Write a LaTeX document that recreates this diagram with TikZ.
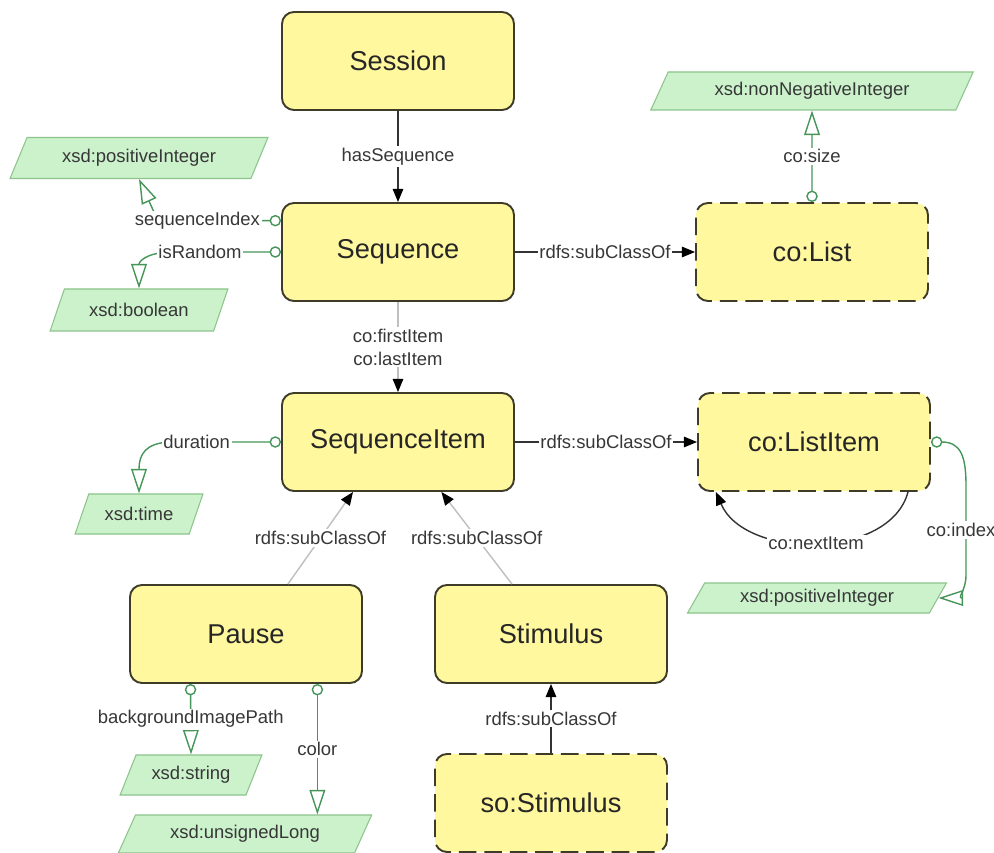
\documentclass[tikz,border=0pt]{standalone}
\usepackage{fontspec}
\setmainfont{Liberation Sans}
\usetikzlibrary{calc,arrows.meta,shapes.geometric}

\definecolor{clsfill}{RGB}{255,248,158}
\definecolor{clsline}{RGB}{62,60,40}
\definecolor{dtfill}{RGB}{204,242,204}
\definecolor{dtline}{RGB}{140,196,140}
\definecolor{propline}{RGB}{70,150,90}
\definecolor{lbltext}{RGB}{55,55,55}

\begin{document}
\begin{tikzpicture}[x=0.2mm,y=-0.2mm,
	cls/.style={draw=clsline,fill=clsfill,line width=1.1pt,rounded corners=2.4mm,minimum width=46.4mm,minimum height=19.6mm,font=\fontsize{15.5}{18}\selectfont,text=black!85},
	extcls/.style={cls,dash pattern=on 10pt off 4.5pt},
	dtype/.style={trapezium,trapezium left angle=60,trapezium right angle=120,trapezium stretches=true,draw=dtline,fill=dtfill,line width=0.6pt,inner sep=1pt,font=\fontsize{10.5}{12}\selectfont,text=lbltext},
	lbl/.style={fill=white,inner sep=1pt,font=\fontsize{10.5}{13}\selectfont,text=lbltext},
	sub/.style={draw=black!80,line width=0.8pt,-{Triangle[length=7.5pt,width=6pt,black]}},
	subgray/.style={sub,draw=black!25},
	prop/.style={draw=propline,line width=0.8pt,{Circle[open,length=6.5pt]}-{Triangle[open,length=14pt,width=9pt]}}
	]
\useasboundingbox[fill=white] (0,0) rectangle (994,853);

\foreach \nm/\x/\y in {Session/398/61, Sequence/398/252, SequenceItem/398/442, Pause/246/634, Stimulus/551/634}
	{
	\node[cls] (\nm) at (\x,\y) {\nm};
	}
\node[extcls] (coList) at (812,252) {co:List};
\node[extcls] (coListItem) at (814,442) {co:ListItem};
\node[extcls] (soStimulus) at (551,803) {so:Stimulus};

\node[dtype,minimum width=51.6mm,minimum height=8.2mm] (posInt) at (139,158) {xsd:positiveInteger};
\node[dtype,minimum width=35.6mm,minimum height=8.4mm] (boolean) at (139,310) {xsd:boolean};
\node[dtype,minimum width=25.6mm,minimum height=8mm] (time) at (139,514) {xsd:time};
\node[dtype,minimum width=64.6mm,minimum height=7.6mm] (nonNegInt) at (812,91) {xsd:nonNegativeInteger};
\node[dtype,minimum width=51.8mm,minimum height=6mm] (indexInt) at (817,598) {xsd:positiveInteger};
\node[dtype,minimum width=28.4mm,minimum height=8mm] (string) at (191,775) {xsd:string};
\node[dtype,minimum width=50.8mm,minimum height=7.6mm] (unsignedLong) at (245,834) {xsd:unsignedLong};

\coordinate (idxBend) at (158,221);
\coordinate (rndBend) at (170,252);
\coordinate (durBend) at (170,442);
\coordinate (indexTop) at (966,485);
\coordinate (indexLow) at (966,575);

\draw[sub] (Session) -- node[lbl]{hasSequence} (Sequence);
\draw[subgray] (Sequence) -- node[lbl,align=center]{co:firstItem\\co:lastItem} (SequenceItem);
\draw[sub] (Sequence) -- node[lbl]{rdfs:subClassOf} (coList);
\draw[sub] (SequenceItem) -- node[lbl]{rdfs:subClassOf} (coListItem);
\draw[subgray] (Pause.50) -- node[lbl]{rdfs:subClassOf} (SequenceItem.228);
\draw[subgray] (Stimulus.128) -- node[lbl]{rdfs:subClassOf} (SequenceItem.311);
\draw[sub] (soStimulus) -- node[lbl]{rdfs:subClassOf} (Stimulus);
\draw[sub] (coListItem.332) .. controls (890,560) and (745,560) .. (coListItem.207) node[lbl,pos=0.5]{co:nextItem};

\draw[prop] (Sequence.165) -- node[lbl,pos=0.68]{sequenceIndex} (idxBend) -- (posInt.south);
\draw[prop] (Sequence.west) -- node[lbl,pos=0.73]{isRandom} (rndBend) .. controls (145,253) and (139,262) .. (boolean.north);
\draw[prop] (SequenceItem.west) -- node[lbl,pos=0.76]{duration} (durBend) .. controls (145,443) and (139,455) .. (time.north);
\draw[prop] (coList) -- node[lbl]{co:size} (nonNegInt);
\draw[prop] (Pause.222) -- node[lbl]{backgroundImagePath} (string.north);
\draw[prop] (Pause.325) -- node[lbl]{color} (Pause.325 |- unsignedLong.north);
\draw[prop] (coListItem.east) .. controls (960,442) and (966,455) .. (indexTop) -- node[lbl,xshift=-1mm]{co:index} (indexLow) .. controls (966,592) and (956,598) .. (indexInt.east);
\end{tikzpicture}
\end{document}
